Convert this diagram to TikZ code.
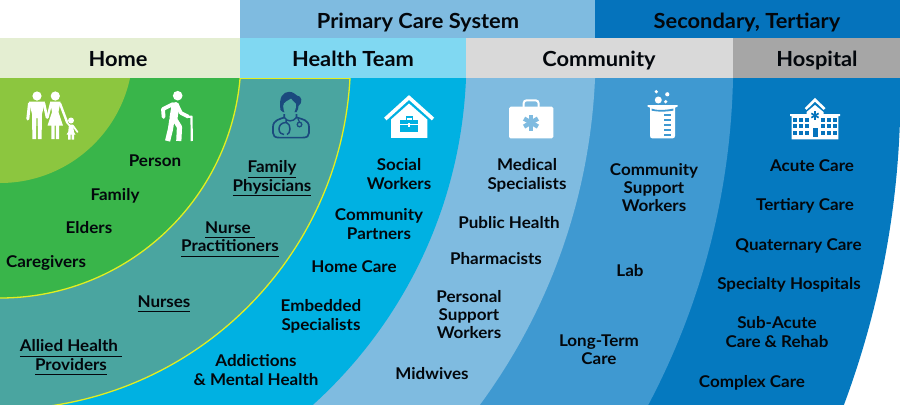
\documentclass[tikz,border=0pt]{standalone}
\usepackage{fontspec}
\setmainfont{Lato}[UprightFont=* Bold,BoldFont=* Bold,FakeStretch=1.05]
\usetikzlibrary{calc}
\definecolor{cLime}{HTML}{8CC63F}
\definecolor{cGreen}{HTML}{39B54A}
\definecolor{cTeal}{HTML}{4AA5A0}
\definecolor{cCyan}{HTML}{00B1E2}
\definecolor{cSky}{HTML}{7FBBE0}
\definecolor{cMid}{HTML}{3F99D1}
\definecolor{cDeep}{HTML}{0579BF}
\definecolor{cYel}{HTML}{E2EE20}
\definecolor{cNavy}{HTML}{1B4A7E}
\definecolor{hHome}{HTML}{E4EED2}
\definecolor{hTeam}{HTML}{80D8F2}
\definecolor{hComm}{HTML}{D9D9D9}
\definecolor{hHosp}{HTML}{A6A6A6}
\definecolor{hSec}{HTML}{0573BC}
\newcommand\ulx[1]{\underline{\vphantom{y}#1}}
\tikzset{
  band/.style={inner sep=0pt,outer sep=0pt,draw=none},
  lbl/.style={inner sep=0pt,align=center,yshift=-2.6pt,text=black!90!cNavy,
    font=\fontsize{16.2}{18.3}\selectfont,
    execute at begin node=\strut,execute at end node=\strut},
  head/.style={lbl,yshift=-1.2pt,font=\fontsize{20.8}{24}\selectfont},
  limb/.style={line cap=round,line join=round,draw=white},
}
\begin{document}
\begin{tikzpicture}[x=1pt,y=-1pt]
\useasboundingbox (0,0) rectangle (900,405);
% header bands
\fill[cSky] (240,0) rectangle (595,38);
\fill[hSec] (595,0) rectangle (900,38);
\fill[hHome] (0,38) rectangle (240,78);
\fill[hTeam] (240,38) rectangle (466,78);
\fill[hComm] (466,38) rectangle (733,78);
\fill[hHosp] (733,38) rectangle (900,78);
% nested arcs
\begin{scope}
\clip (0,78) rectangle (900,404);
\fill[cDeep] (0,90) circle[radius=900.5pt];
\fill[cMid] (0,62) circle[radius=733.2pt];
\fill[cSky] (0,52) circle[radius=595.6pt];
\fill[cCyan] (0,59) circle[radius=466.4pt];
\fill[cTeal,draw=cYel,line width=1.3pt] (0,59) circle[radius=350.5pt];
\fill[cGreen,draw=cYel,line width=1.3pt] (0,57) circle[radius=241pt];
\fill[cLime] (0,50) circle[radius=133pt];
\draw[cYel,line width=1.3pt] (240,78.6) -- (350,78.6);
\end{scope}
% family icon
\fill[white] (37,96) circle[radius=4.6pt];
\fill[white] (29,101.5) -- (45,101.5) -- (42,114) -- (41.6,139) -- (38,139) -- (37.6,118) -- (36.4,118) -- (36,139) -- (32.4,139) -- (32,114) -- cycle;
\draw[limb,line width=3pt] (29.5,103.5) -- (27.8,119);
\draw[limb,line width=2.6pt] (44,103.5) -- (47,117.5);
\fill[white] (55.3,96) circle[radius=4.6pt];
\fill[white] (50,101.5) -- (60.5,101.5) -- (58.5,112) -- (63,125.5) -- (59,125.5) -- (59,139) -- (55.8,139) -- (55.8,125.5) -- (54.6,125.5) -- (54.6,139) -- (51.4,139) -- (51.4,125.5) -- (47.5,125.5) -- (52,112) -- cycle;
\draw[limb,line width=2.4pt] (51,103.5) -- (47.5,117.5);
\draw[limb,line width=2.4pt] (60,103.5) -- (67,122);
\fill[white] (71,120.5) circle[radius=3pt];
\fill[white] (69,124.5) -- (73,124.5) -- (74,132) -- (75.5,134.5) -- (74,134.5) -- (74,139.5) -- (71.6,139.5) -- (71.6,134.5) -- (70.6,134.5) -- (70.6,139.5) -- (68.2,139.5) -- (68.2,134.5) -- (66.6,134.5) -- (68.2,132) -- cycle;
\draw[limb,line width=1.7pt] (69.5,125.5) -- (66.5,122);
\draw[limb,line width=1.7pt] (72.8,125.5) -- (77.5,132);
% elder icon
\fill[white] (177.7,95.7) circle[radius=4.8pt];
\draw[limb,line width=8pt] (175.5,106) -- (173.5,118);
\draw[limb,line width=3.8pt] (173,104) -- (163,109) -- (163.6,117);
\draw[limb,line width=3.6pt] (177,105) -- (181,113) -- (188,116.5);
\draw[limb,line width=5.2pt,line cap=butt] (172,119) -- (170.5,129) -- (167.6,141);
\draw[limb,line width=5.2pt,line cap=butt] (174.5,119) -- (179.5,127) -- (178.8,141);
\draw[white,line width=2.2pt,line join=round] (186.5,117) -- (191.5,116.6) -- (191.8,141);
% doctor icon
\fill[cNavy] (280.5,110) .. controls (278.5,97) and (283,92) .. (289,91.8) .. controls (293,91.8) and (295,94) .. (297,95.5) .. controls (302,95.5) and (303,103) .. (298.5,106) .. controls (298.5,108) and (298,110) .. (296.5,112) -- (283,112) -- cycle;
\fill[cTeal] (283.2,106) .. controls (283.2,102) and (288,100.8) .. (291,98.6) .. controls (292.5,101) and (295,102.5) .. (296,104) .. controls (296.5,111) and (293,115.5) .. (289.5,115.5) .. controls (286,115.5) and (283.2,112) .. (283.2,106) -- cycle;
\draw[cNavy,line width=1.7pt,line join=round] (284.3,114) -- (284.3,117.5) .. controls (280,119) and (273,120) .. (273,127) -- (273,133) .. controls (273,136) and (275,137.6) .. (279,137.6) -- (303,137.6) .. controls (307,137.6) and (309,136) .. (309,133) -- (309,127) .. controls (309,120) and (302,119) .. (296.5,117.5) -- (296.5,114);
\draw[cNavy,line width=1.4pt] (284.3,117.5) .. controls (287,122) and (293,122) .. (296.5,117.5);
\draw[cNavy,line width=1.5pt] (286,120) -- (286,122.5) .. controls (281,122.5) and (279,126) .. (279,129) .. controls (279,133) and (282,134.5) .. (284,134.5);
\draw[cNavy,line width=1.5pt] (286.5,122.5) .. controls (289,123.5) and (290,126) .. (290,129) .. controls (290,132) and (288.5,134) .. (287,134.5);
\draw[cNavy,line width=1.3pt] (298,119) -- (299.5,122);
\draw[cNavy,line width=1.3pt] (299.5,124.5) circle[radius=2.3pt];
% house icon
\draw[white,line width=3.6pt,miter limit=10] (385.3,119) -- (409,97.5) -- (433,119);
\fill[white] (409,103.5) -- (391,119.5) -- (391,137.8) -- (427.3,137.8) -- (427.3,119.5) -- cycle;
\fill[cCyan] (400,119.5) rectangle (418.4,131.7);
\draw[cCyan,line width=1.2pt] (406.2,119.5) -- (406.2,117) -- (412.2,117) -- (412.2,119.5);
\draw[white,line width=.8pt] (400,124.8) -- (418.4,124.8);
\fill[white] (408.2,123.4) rectangle (410.2,126.6);
% medical kit icon
\draw[white,line width=2pt,rounded corners=3pt] (523.6,107) -- (523.6,100.3) -- (538.6,100.3) -- (538.6,107);
\fill[white,rounded corners=1.6pt] (509,106.7) rectangle (553.4,138.4);
\foreach \a in {90,30,-30}
  \draw[cSky,line width=4.4pt] ($(531,122.6)+(\a:8)$) -- ($(531,122.6)+(\a+180:8)$);
% beaker icon
\fill[white] (658.3,100) circle[radius=3.5pt];
\fill[white] (656.3,91.7) circle[radius=1.8pt];
\fill[white] (667.3,94.3) circle[radius=2.1pt];
\fill[white] (665.7,101.7) circle[radius=1.8pt];
\fill[white] (647.5,105) -- (677.6,105) -- (677.6,106.6) -- (675,107.6) -- (675,135.8) .. controls (675,137.5) and (674,138.4) .. (672.5,138.4) -- (652.5,138.4) .. controls (651,138.4) and (650,137.5) .. (650,135.8) -- (650,107.6) -- (647.5,106.6) -- cycle;
\fill[cMid] (651.6,108.6) .. controls (656,110.4) and (664,110.4) .. (673.4,108.6) -- (673.4,110.6) .. controls (664,112) and (658,112) .. (651.6,110.6) -- cycle;
\foreach \yy in {114,119,124,129,134}
  \fill[cMid] (664,\yy) rectangle (671,\yy+2.4);
% hospital icon
\draw[white,line width=2.6pt,miter limit=10] (805.6,109) -- (815,99.8) -- (824.6,109);
\fill[white] (815,105) -- (806.5,112) -- (806.5,114) -- (790,114) -- (790,116) -- (791.7,116) -- (791.7,139.4) -- (838.3,139.4) -- (838.3,116) -- (840,116) -- (840,114) -- (823.5,114) -- (823.5,112) -- cycle;
\foreach \a in {90,30,-30}
  \draw[hSec,line width=1.7pt] ($(815,115.5)+(\a:4.2)$) -- ($(815,115.5)+(\a+180:4.2)$);
\foreach \xx in {795,801.2,807.4,822.6,828.8,835}
  \foreach \yy in {119.5,126,132.6}
    \fill[hSec] (\xx-2,\yy-2) rectangle (\xx+2,\yy+2);
\fill[hSec] (812.6,128.3) rectangle (817.6,136.8);
% headers
\node[head] (primary) at (418,20) {Primary Care System};
\node[head] (secondary) at (747,20) {Secondary, Tertiary};
\node[head] (home) at (118,58) {Home};
\node[head] (team) at (353,58) {Health Team};
\node[head] (community) at (599,58) {Community};
\node[head] (hospital) at (817,58) {Hospital};
% home
\node[lbl] (person) at (155,160) {Person};
\node[lbl] (family) at (115,194) {Family};
\node[lbl] (elders) at (89,227) {Elders};
\node[lbl] (caregivers) at (46,261) {Caregivers};
% health team
\node[lbl] (physicians) at (272,176) {\ulx{Family}\\\ulx{Physicians}};
\node[lbl] (practitioners) at (230,237) {\ulx{Nurse\ }\\\ulx{Practitioners}};
\node[lbl] (nurses) at (164,301) {\ulx{Nurses}};
\node[lbl] (allied) at (71,355) {\ulx{Allied Health\ }\\\ulx{Providers}};
% cyan
\node[lbl] (social) at (399,174) {Social\\Workers};
\node[lbl] (partners) at (379,224) {Community\\Partners};
\node[lbl] (homecare) at (354,266) {Home Care};
\node[lbl] (embedded) at (321,315) {Embedded\\Specialists};
\node[lbl] (addictions) at (256,370) {Addictions\\\& Mental Health};
% sky
\node[lbl] (medical) at (527,174) {Medical\\Specialists};
\node[lbl] (public) at (509,222) {Public Health};
\node[lbl] (pharmacists) at (496,258) {Pharmacists};
\node[lbl] (personal) at (469,314.5) {Personal\\Support\\Workers};
\node[lbl] (midwives) at (432,373) {Midwives};
% mid
\node[lbl] (support) at (654,187.5) {Community\\Support\\Workers};
\node[lbl] (lab) at (630,270) {Lab};
\node[lbl] (longterm) at (599,350) {Long-Term\\Care};
% deep
\node[lbl] (acute) at (812,165) {Acute Care};
\node[lbl] (tertiary) at (805,204) {Tertiary Care};
\node[lbl] (quaternary) at (798.5,244) {Quaternary Care};
\node[lbl] (specialty) at (789,283) {Specialty Hospitals};
\node[lbl] (subacute) at (777,332) {Sub-Acute\\Care \& Rehab};
\node[lbl] (complex) at (752,381) {Complex Care};
\end{tikzpicture}
\end{document}
